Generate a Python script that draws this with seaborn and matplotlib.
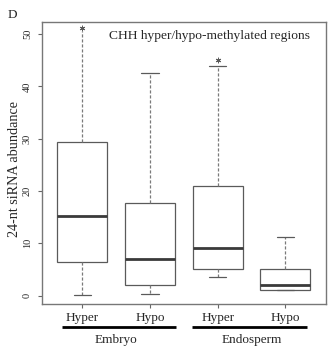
import numpy as np
import pandas as pd
import matplotlib
matplotlib.use("Agg")
import matplotlib.pyplot as plt
import matplotlib.transforms as mtransforms
import seaborn as sns

# ---- data (five-number summaries) ----
categories = ["Embryo Hyper", "Embryo Hypo", "Endosperm Hyper", "Endosperm Hypo"]
tick_labels = ["Hyper", "Hypo", "Hyper", "Hypo"]
groups = ["Embryo", "Endosperm"]
emb_hyper = [0.2, 6.4, 15.3, 29.3, 50.6]
emb_hypo = [0.3, 2.0, 7.0, 17.8, 42.6]
endo_hyper = [3.5, 5.1, 9.1, 21.0, 43.8]
endo_hypo = [1.0, 1.0, 2.0, 5.0, 11.2]
star_cats = ["Embryo Hyper", "Endosperm Hyper"]
star_vals = [51.2, 45.0]
yticks = [0, 10, 20, 30, 40, 50]

df = pd.DataFrame({
    "cat": np.repeat(categories, 5),
    "val": emb_hyper + emb_hypo + endo_hyper + endo_hypo,
})

sns.set_style("white")
plt.rcParams["font.family"] = ["Liberation Serif", "DejaVu Serif"]

fig = plt.figure(figsize=(3.36, 3.53), dpi=100)
ax = fig.add_axes([41.7 / 336, 1 - 304 / 353, (326 - 41.7) / 336, (304 - 22) / 353])

edge = "#5a5a5a"
sns.boxplot(data=df, x="cat", y="val", order=categories, ax=ax,
            whis=(0, 100), width=0.74, color="white", linecolor=edge,
            linewidth=0.9, showfliers=False,
            whiskerprops={"linestyle": (0, (2.5, 1.5)), "color": "#7a7a7a"},
            capprops={"color": edge},
            medianprops={"color": "#3a3a3a", "linewidth": 2.0},
            capwidths=0.26)

# hide the top cap of the first box (covered by the asterisk in the reference)
caps = [l for l in ax.lines if len(l.get_xdata()) == 2 and
        abs(l.get_ydata()[0] - l.get_ydata()[1]) < 1e-9 and
        abs(l.get_xdata()[1] - l.get_xdata()[0]) < 0.3]
for l in caps:
    if abs(np.mean(l.get_xdata())) < 0.01 and abs(l.get_ydata()[0] - emb_hyper[-1]) < 1e-6:
        l.set_visible(False)

sns.scatterplot(x=star_cats, y=star_vals, marker=(6, 2, 0), s=12,
                color="#5a5a5a", linewidth=0.7, ax=ax, zorder=5)

ax.set_xlim(-0.6, 3.6)
ax.set_ylim(-1.6, 52.3)
ax.set_yticks(yticks)
ax.set_yticklabels([str(v) for v in yticks], rotation=90, va="center", fontsize=7.5)
ax.set_xticks(range(4))
ax.set_xticklabels(tick_labels, fontsize=9.5)
ax.tick_params(axis="both", length=3, width=0.8, color="#666666", direction="out",
               bottom=True, left=True, pad=3)
ax.tick_params(axis="y", pad=4)
ax.set_xlabel("")
ax.set_ylabel("24-nt siRNA abundance", fontsize=10.2, labelpad=1)
ax.yaxis.set_label_coords(-0.074, 0.48)
for s in ax.spines.values():
    s.set_visible(True)
    s.set_color("#777777")
    s.set_linewidth(1.0)

ax.text(0.942, 0.95, "CHH hyper/hypo-methylated regions", transform=ax.transAxes,
        ha="right", va="center", fontsize=9.7)

trans = mtransforms.blended_transform_factory(ax.transData, ax.transAxes)
ax.plot([-0.30, 1.39], [-0.080, -0.080], color="black", lw=2.0,
        transform=trans, clip_on=False, solid_capstyle="butt")
ax.plot([1.62, 3.32], [-0.080, -0.080], color="black", lw=2.0,
        transform=trans, clip_on=False, solid_capstyle="butt")
ax.text(0.5, -0.126, groups[0], transform=trans, ha="center", va="center", fontsize=9.5)
ax.text(2.5, -0.126, groups[1], transform=trans, ha="center", va="center", fontsize=9.5)

fig.text(8 / 336, 1 - 15 / 353, "D", ha="left", va="center", fontsize=9.5)

fig.savefig("out.png", dpi=100)
